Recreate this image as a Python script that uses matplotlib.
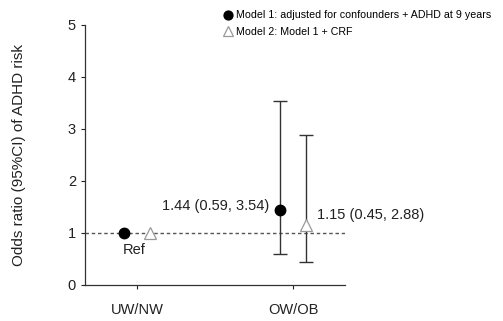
import numpy as np
import matplotlib.pyplot as plt

plt.rcParams['font.family'] = ['Liberation Sans', 'DejaVu Sans']

groups = ['UW/NW', 'OW/OB']
m1_or = [1.0, 1.44]
m1_lo = [1.0, 0.59]
m1_hi = [1.0, 3.54]
m2_or = [1.0, 1.15]
m2_lo = [1.0, 0.45]
m2_hi = [1.0, 2.88]
labels1 = ['Ref', '1.44 (0.59, 3.54)']
labels2 = ['', '1.15 (0.45, 2.88)']

fig = plt.figure(figsize=(5.03, 3.21), dpi=100)
ax = fig.add_axes([85 / 503, 36 / 321, 260 / 503, 260 / 321])

x = np.arange(1, len(groups) + 1)
off = 0.085

ax.axhline(1, color='#555555', lw=1, ls=(0, (2.5, 2)), zorder=1)

# model 1: filled circles, only OW/OB has an interval
ax.errorbar(x[1:] - off, m1_or[1:],
            yerr=[[m1_or[1] - m1_lo[1]], [m1_hi[1] - m1_or[1]]],
            fmt='none', ecolor='#333333', elinewidth=1, capsize=5, capthick=1, zorder=2)
ax.plot(x - off, m1_or, 'o', color='black', ms=7.5, ls='none', zorder=3,
        label='Model 1: adjusted for confounders + ADHD at 9 years')

# model 2: open triangles
ax.errorbar(x[1:] + off, m2_or[1:],
            yerr=[[m2_or[1] - m2_lo[1]], [m2_hi[1] - m2_or[1]]],
            fmt='none', ecolor='#333333', elinewidth=1, capsize=5, capthick=1, zorder=2)
ax.plot(x + off, m2_or, '^', mfc='white', mec='#999999', mew=0.9, ms=8, ls='none', zorder=3,
        label='Model 2: Model 1 + CRF')

ax.text(x[0] - off + 0.07, 0.68, labels1[0], ha='center', va='center', fontsize=10.5, color='#222222')
ax.text(x[1] - off - 0.07, m1_or[1] + 0.08, labels1[1], ha='right', va='center', fontsize=10.5, color='#222222')
ax.text(x[1] + off + 0.07, m2_or[1] + 0.2, labels2[1], ha='left', va='center', fontsize=10.5, color='#222222')

ax.set_xlim(0.667, 2.333)
ax.set_ylim(0, 5)
ax.set_xticks(x)
ax.set_xticklabels(groups)
ax.set_yticks(range(6))
ax.tick_params(axis='both', labelsize=10.5, length=3, width=0.8, colors='#222222')
ax.tick_params(axis='x', pad=10)
for s in ['top', 'right']:
    ax.spines[s].set_visible(False)
for s in ['left', 'bottom']:
    ax.spines[s].set_color('#333333')
    ax.spines[s].set_linewidth(0.9)

ax.set_ylabel('Odds ratio (95%CI) of ADHD risk', fontsize=11, color='#222222', labelpad=30)

fig.legend(loc='upper left', bbox_to_anchor=(218 / 503, 1 - 6 / 321), frameon=False, fontsize=7.7,
           handletextpad=0.3, borderaxespad=0, labelspacing=0.6, handlelength=1.0,
           markerscale=0.85)

fig.savefig('out.png', dpi=100)
